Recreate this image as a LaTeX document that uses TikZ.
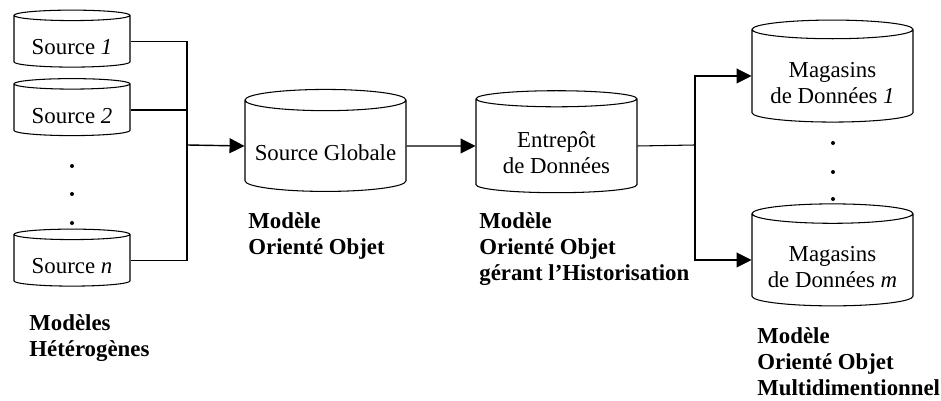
\documentclass[tikz,border=0pt]{standalone}
\usepackage{fontspec}
\setmainfont{Liberation Serif}
\usepackage{tikz}
\usetikzlibrary{shapes.geometric,arrows.meta}

% invisible strut that pushes the text below the top rim
\newcommand{\rimgap}[1]{\rule{0pt}{#1}}

\tikzset{
  base/.style={cylinder, shape border rotate=90, draw, semithick,
    align=center, inner sep=0pt, font=\fontsize{13}{15}\selectfont},
  smallbase/.style={base, aspect=0.13, minimum width=2.32cm, minimum height=1.14cm},
  bigbase/.style={base, aspect=0.15, minimum width=3.22cm, minimum height=2.04cm},
  caption/.style={anchor=north west, align=left, inner sep=0pt,
    font=\fontsize{13}{14.8}\selectfont\bfseries},
  flow/.style={semithick, -{Triangle[length=8.5pt,width=8.5pt]}}
}

\begin{document}
\begin{tikzpicture}[x=0.02cm, y=-0.02cm]
\useasboundingbox (0,0) rectangle (941,401);

% sources
\node[smallbase] (src1) at (72,41.5) {\rimgap{15pt}Source \textit{1}};
\node[smallbase] (src2) at (72,110) {\rimgap{15pt}Source \textit{2}};
\node[smallbase] (srcn) at (72,260.5) {\rimgap{15pt}Source \textit{n}};
\foreach \y in {166,194,223} \fill (72,\y) circle (2);
\node[caption] (hetero) at (29,314) {Mod\`eles\\H\'et\'erog\`enes};

% global source and warehouse
\node[bigbase] (glob) at (325.5,146) {\rimgap{17pt}Source Globale};
\node[bigbase] (ware) at (556.5,146) {\rimgap{17pt}Entrep\^ot\\de Donn\'ees};
\node[caption] (globlbl) at (248,212) {Mod\`ele\\Orient\'e Objet};
\node[caption] (warelbl) at (479,212) {Mod\`ele\\Orient\'e Objet\\g\'erant l'Historisation};

% data marts
\node[bigbase] (mag1) at (832.5,76) {\rimgap{17pt}Magasins\\de Donn\'ees \textit{1}};
\node[bigbase] (magm) at (832.5,260) {\rimgap{17pt}Magasins\\de Donn\'ees \textit{m}};
\foreach \y in {143,172,199} \fill (833,\y) circle (2);
\node[caption] (maglbl) at (757,327) {Mod\`ele\\Orient\'e Objet\\Multidimentionnel};

% connectors
\coordinate (jin) at (187,145);
\coordinate (jout) at (695,145);
\draw[semithick] (src1.east) -| (jin);
\draw[semithick] (src2.east) -- (src2.east -| jin);
\draw[semithick] (srcn.east) -| (jin);
\draw[flow, thick] (jin) -- (glob.west);
\draw[flow] (glob.east) -- (ware.west);
\draw[semithick] (ware.east) -- (jout);
\draw[flow] (jout) |- (mag1.west);
\draw[flow] (jout) |- (magm.west);
\end{tikzpicture}
\end{document}
